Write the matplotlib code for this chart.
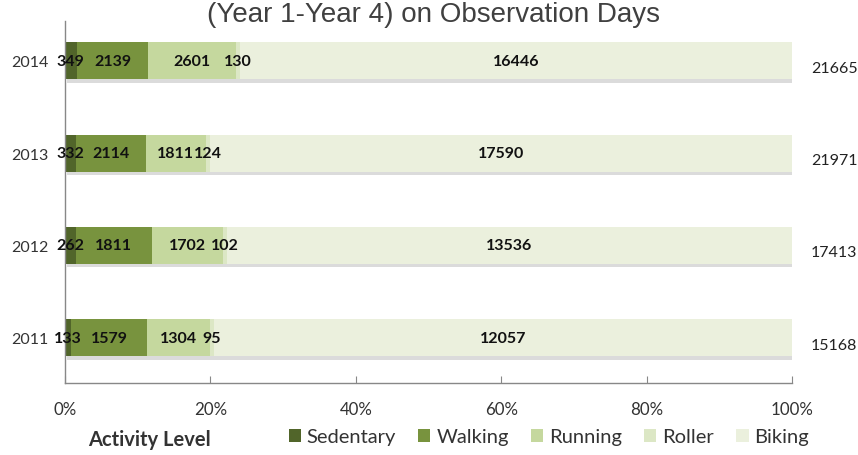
import matplotlib

matplotlib.use("Agg")
import matplotlib.pyplot as plt
import matplotlib.patheffects as pe
from matplotlib.patches import Patch
import numpy as np


years = ["2011", "2012", "2013", "2014"]
sedentary = [133, 262, 332, 349]
walking = [1579, 1811, 2114, 2139]
running = [1304, 1702, 1811, 2601]
roller = [95, 102, 124, 130]
biking = [12057, 13536, 17590, 16446]
totals = [15168, 17413, 21971, 21665]

categories = ["Sedentary", "Walking", "Running", "Roller", "Biking"]
colors = ["#51652a", "#78933e", "#c5d89e", "#dce7c5", "#ebf0dd"]
x_ticks = [0, 20, 40, 60, 80, 100]


def build_plot():
    plt.rcParams["font.family"] = ["Lato", "DejaVu Sans"]
    fig = plt.figure(figsize=(8.58, 4.56), dpi=100)
    ax = fig.add_axes([65 / 858, 1 - 384 / 456, 727 / 858, 362 / 456])

    series = [sedentary, walking, running, roller, biking]
    y = np.arange(len(years))
    left = np.zeros(len(years))
    shadow = [pe.SimplePatchShadow(offset=(1.5, -2.5), shadow_rgbFace="#8a8a8a", alpha=0.3), pe.Normal()]
    for name, values, color in zip(categories, series, colors):
        share = np.array(values) / np.array(totals) * 100
        bars = ax.barh(y, share, left=left, height=0.4, color=color, edgecolor="none", label=name)
        for bar in bars:
            bar.set_path_effects(shadow)
        for yi, l, w, v in zip(y, left, share, values):
            ax.text(l + w / 2, yi, str(v), ha="center", va="center",
                    fontsize=11.5, fontweight="bold", color="#111111")
        left += share

    for yi, t in zip(y, totals):
        ax.text(1.058, yi - 0.075, str(t), transform=ax.get_yaxis_transform(),
                ha="center", va="center", fontsize=11.5, color="#222222")

    ax.set_xlim(0, 100)
    ax.set_ylim(-0.49, 3.43)
    ax.set_xticks(x_ticks)
    ax.set_xticklabels([f"{t}%" for t in x_ticks], fontsize=12.2, color="#333333")
    ax.set_yticks(y)
    ax.set_yticklabels(years, fontsize=11.5, color="#333333")
    ax.tick_params(axis="x", direction="in", length=5, color="#888888", pad=13)
    ax.tick_params(axis="y", length=0, pad=12)
    for side in ["top", "right"]:
        ax.spines[side].set_visible(False)
    for side in ["left", "bottom"]:
        ax.spines[side].set_color("#888888")
        ax.spines[side].set_linewidth(1.0)

    fig.text(0.505, 1 - 22 / 456, "(Year 1-Year 4) on Observation Days",
             ha="center", va="baseline", fontsize=20, color="#404040",
             family=["Liberation Sans", "DejaVu Sans"])

    fig.text(149 / 858, 1 - 440 / 456, "Activity Level", ha="center", va="center",
             fontsize=14.5, fontweight="bold", color="#333333")
    handles = [Patch(facecolor=c, edgecolor="none", label=n) for n, c in zip(categories, colors)]
    fig.legend(handles=handles, loc="center", bbox_to_anchor=(549 / 858, 1 - 438 / 456),
               ncol=5, frameon=False, fontsize=14.5, handlelength=0.6, handleheight=0.6,
               handletextpad=0.3, columnspacing=1.1, labelcolor="#333333")

    fig.savefig("out.png", dpi=100)
    plt.close(fig)


if __name__ == "__main__":
    build_plot()
